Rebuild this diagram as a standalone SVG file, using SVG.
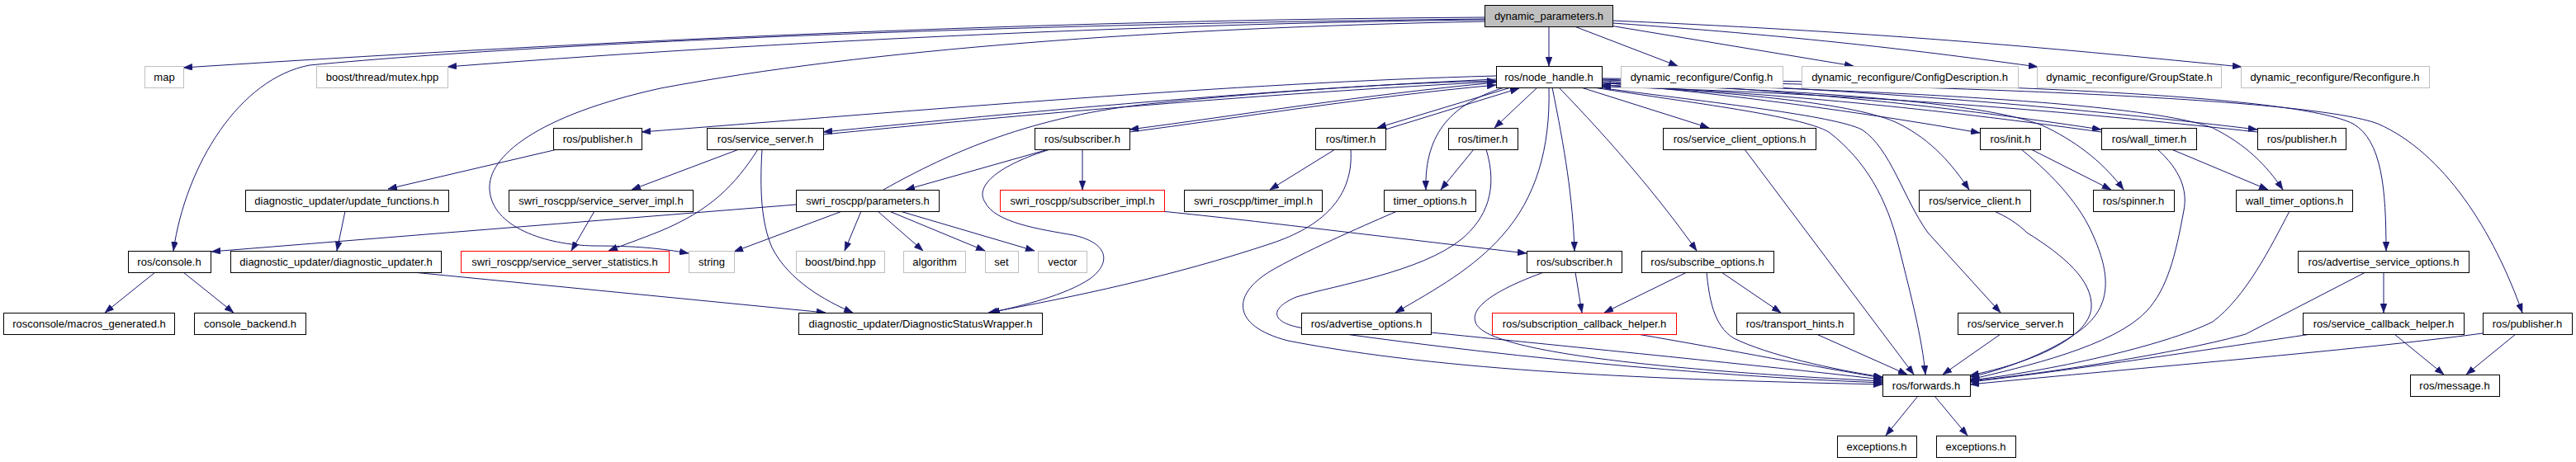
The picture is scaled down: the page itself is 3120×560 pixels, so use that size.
<svg xmlns="http://www.w3.org/2000/svg" width="3120" height="560" viewBox="0 0 3120 560">
<style>
.n rect{fill:#fff;stroke:#000;stroke-width:1}
.g rect{fill:#fff;stroke:#bfbfbf;stroke-width:1}
.r rect{fill:#fff;stroke:#ff0000;stroke-width:1}
.root rect{fill:#bfbfbf;stroke:#000;stroke-width:1}
text{font-family:"Liberation Sans",Arial,sans-serif;font-size:13px;text-anchor:middle;fill:#000}
#edges path{fill:none;stroke:#191970;stroke-width:1;marker-end:url(#a)}
</style>
<defs>
<marker id="a" viewBox="0 0 11 8" refX="11" refY="4" markerWidth="11" markerHeight="8" markerUnits="userSpaceOnUse" orient="auto"><path d="M0,0 L11,4 L0,8 z" fill="#191970" stroke="#191970" stroke-width="0.5"/></marker>
</defs>
<rect width="3120" height="560" fill="#fff"/>
<g id="edges">
<path d="M1876,32 L1876,80"/>
<path d="M1798,21 Q1100,25 222,82"/>
<path d="M1798,23 C1300,28 700,48 375,79 C290,95 225,200 210,304"/>
<path d="M1798,24 C1500,27 1000,45 542,81"/>
<path d="M1798,26 C1400,34 1050,60 800,107 C650,140 590,190 593,230 C596,275 660,297 720,298 C770,298 800,301 834,307"/>
<path d="M1907,32 L2032,80"/>
<path d="M1950,31 L2245,80"/>
<path d="M1953,28 C2200,45 2350,65 2468,81"/>
<path d="M1953,25 C2300,40 2500,60 2715,81"/>
<path d="M1812,92 C1500,100 1100,135 777,160"/>
<path d="M1812,96 C1500,110 1200,140 997,160"/>
<path d="M997,163 C1200,143 1500,115 1812,99"/>
<path d="M1812,100 C1650,115 1500,140 1368,157"/>
<path d="M1368,160 C1500,143 1650,118 1812,103"/>
<path d="M1070,230 C1150,185 1250,140 1400,125 C1550,110 1700,100 1812,98"/>
<path d="M1830,106 L1668,155"/>
<path d="M1678,157 L1840,107"/>
<path d="M1862,106 L1810,155"/>
<path d="M1822,106 C1760,125 1725,160 1727,230"/>
<path d="M1785,181 L1745,230"/>
<path d="M1617,181 L1538,230"/>
<path d="M1636,181 C1640,240 1600,275 1540,295 C1420,335 1300,360 1197,379"/>
<path d="M1270,181 L1097,230"/>
<path d="M1311,181 L1311,230"/>
<path d="M1272,181 C1210,200 1180,225 1193,245 C1205,270 1260,278 1300,285 C1345,295 1345,320 1320,338 C1290,358 1240,370 1200,379"/>
<path d="M895,181 L765,230"/>
<path d="M918,181 C890,225 860,255 800,280 C775,290 755,297 737,304"/>
<path d="M923,181 C920,230 922,270 935,300 C955,340 1000,365 1033,379"/>
<path d="M720,256 L692,304"/>
<path d="M964,248 L256,305"/>
<path d="M1020,256 L889,305"/>
<path d="M1043,256 L1023,304"/>
<path d="M1063,256 L1118,304"/>
<path d="M1077,256 L1193,304"/>
<path d="M1090,256 L1253,304"/>
<path d="M675,181 L470,229"/>
<path d="M418,256 L408,304"/>
<path d="M500,330 L1000,379"/>
<path d="M188,330 L127,379"/>
<path d="M222,330 L283,379"/>
<path d="M1406,256 C1500,265 1700,290 1849,307"/>
<path d="M1800,181 C1815,230 1800,265 1770,290 C1720,330 1620,345 1570,360 C1535,375 1540,392 1580,398 C1800,430 2050,455 2280,464"/>
<path d="M1692,256 C1660,270 1590,300 1545,325 C1490,355 1490,395 1560,413 C1750,450 2000,460 2280,466"/>
<path d="M1733,403 C1950,425 2150,445 2280,460"/>
<path d="M1870,330 C1820,348 1780,370 1787,390 C1795,425 2000,448 2280,462"/>
<path d="M1983,405 C2100,425 2200,445 2280,458"/>
<path d="M2067,330 C2070,360 2075,395 2100,410 C2140,430 2220,448 2280,457"/>
<path d="M2043,330 L1943,379"/>
<path d="M2085,330 L2157,379"/>
<path d="M1908,330 L1916,379"/>
<path d="M2200,405 L2310,454"/>
<path d="M1876,106 C1878,180 1860,240 1820,285 C1785,325 1740,350 1690,379"/>
<path d="M1880,106 C1895,180 1905,240 1907,304"/>
<path d="M1888,106 C1950,170 2010,240 2055,304"/>
<path d="M1930,106 C2050,125 2180,140 2215,160 C2260,195 2285,240 2300,300 C2315,360 2328,410 2332,454"/>
<path d="M1935,106 C2080,125 2220,140 2255,157 C2290,180 2305,240 2335,282 L2423,379"/>
<path d="M2113,181 L2318,454"/>
<path d="M1915,106 L2070,155"/>
<path d="M1940,100 C2100,115 2250,135 2398,161"/>
<path d="M1940,98 C2200,110 2400,135 2545,157"/>
<path d="M1940,96 C2300,110 2550,135 2734,157"/>
<path d="M2545,160 C2400,140 2200,115 1940,103"/>
<path d="M2734,160 C2550,140 2300,115 1940,105"/>
<path d="M1940,103 C2100,112 2250,125 2300,150 C2340,170 2365,200 2385,230"/>
<path d="M1940,101 C2200,110 2420,125 2480,155 C2520,175 2550,200 2572,230"/>
<path d="M1940,100 C2300,110 2600,125 2680,155 C2720,175 2745,200 2765,230"/>
<path d="M1940,95 C2400,100 2780,115 2850,150 C2885,170 2890,230 2890,304"/>
<path d="M1940,97 C2400,105 2800,120 2880,150 C2960,185 3020,280 3055,379"/>
<path d="M2460,181 L2557,230"/>
<path d="M2448,181 C2490,215 2520,250 2535,285 C2555,330 2560,370 2520,400 C2480,430 2420,450 2386,457"/>
<path d="M2413,255 C2430,262 2445,272 2455,282 C2500,310 2535,340 2533,373 C2530,410 2460,440 2386,455"/>
<path d="M2630,181 L2747,230"/>
<path d="M2613,181 C2640,205 2650,230 2645,255 C2635,310 2625,350 2600,377 C2560,420 2450,445 2386,460"/>
<path d="M2773,256 C2750,300 2720,360 2680,390 C2620,420 2480,450 2386,461"/>
<path d="M2865,330 L2720,405 C2650,425 2500,450 2386,462"/>
<path d="M2799,405 C2700,420 2500,450 2386,463"/>
<path d="M3007,404 C2850,425 2600,445 2386,466"/>
<path d="M2423,405 L2353,454"/>
<path d="M2887,330 L2887,379"/>
<path d="M2900,405 L2960,454"/>
<path d="M3047,405 L2987,454"/>
<path d="M2323,480 L2284,528"/>
<path d="M2343,480 L2383,528"/>
</g>
<g id="n_root" class="root"><rect x="1798.5" y="6.5" width="155" height="26"/><text x="1876" y="24">dynamic_parameters.h</text></g>
<g id="n_map" class="g"><rect x="175.5" y="80.5" width="47" height="26"/><text x="199" y="98">map</text></g>
<g id="n_mutex" class="g"><rect x="383.5" y="80.5" width="159" height="26"/><text x="463" y="98">boost/thread/mutex.hpp</text></g>
<g id="n_nh" class="n"><rect x="1812.5" y="80.5" width="128" height="26"/><text x="1876" y="98">ros/node_handle.h</text></g>
<g id="n_cfg" class="g"><rect x="1963.5" y="80.5" width="196" height="26"/><text x="2061" y="98">dynamic_reconfigure/Config.h</text></g>
<g id="n_cfgdesc" class="g"><rect x="2182.5" y="80.5" width="262" height="26"/><text x="2313" y="98">dynamic_reconfigure/ConfigDescription.h</text></g>
<g id="n_grp" class="g"><rect x="2467.5" y="80.5" width="223" height="26"/><text x="2579" y="98">dynamic_reconfigure/GroupState.h</text></g>
<g id="n_rec" class="g"><rect x="2714.5" y="80.5" width="228" height="26"/><text x="2828" y="98">dynamic_reconfigure/Reconfigure.h</text></g>
<g id="n_pubL" class="n"><rect x="670.5" y="155.5" width="107" height="26"/><text x="724" y="173">ros/publisher.h</text></g>
<g id="n_ss" class="n"><rect x="856.5" y="155.5" width="141" height="26"/><text x="927" y="173">ros/service_server.h</text></g>
<g id="n_sub" class="n"><rect x="1253.5" y="155.5" width="115" height="26"/><text x="1311" y="173">ros/subscriber.h</text></g>
<g id="n_tim1" class="n"><rect x="1593.5" y="155.5" width="85" height="26"/><text x="1636" y="173">ros/timer.h</text></g>
<g id="n_tim2" class="n"><rect x="1754.5" y="155.5" width="84" height="26"/><text x="1796" y="173">ros/timer.h</text></g>
<g id="n_sco" class="n"><rect x="2014.5" y="155.5" width="185" height="26"/><text x="2107" y="173">ros/service_client_options.h</text></g>
<g id="n_init" class="n"><rect x="2398.5" y="155.5" width="73" height="26"/><text x="2435" y="173">ros/init.h</text></g>
<g id="n_wt" class="n"><rect x="2545.5" y="155.5" width="115" height="26"/><text x="2603" y="173">ros/wall_timer.h</text></g>
<g id="n_pubR" class="n"><rect x="2734.5" y="155.5" width="107" height="26"/><text x="2788" y="173">ros/publisher.h</text></g>
<g id="n_uf" class="n"><rect x="297.5" y="230.5" width="246" height="26"/><text x="420" y="248">diagnostic_updater/update_functions.h</text></g>
<g id="n_ssi" class="n"><rect x="616.5" y="230.5" width="223" height="26"/><text x="728" y="248">swri_roscpp/service_server_impl.h</text></g>
<g id="n_par" class="n"><rect x="964.5" y="230.5" width="173" height="26"/><text x="1051" y="248">swri_roscpp/parameters.h</text></g>
<g id="n_subi" class="r"><rect x="1211.5" y="230.5" width="199" height="26"/><text x="1311" y="248">swri_roscpp/subscriber_impl.h</text></g>
<g id="n_timi" class="n"><rect x="1434.5" y="230.5" width="167" height="26"/><text x="1518" y="248">swri_roscpp/timer_impl.h</text></g>
<g id="n_to" class="n"><rect x="1676.5" y="230.5" width="111" height="26"/><text x="1732" y="248">timer_options.h</text></g>
<g id="n_sc" class="n"><rect x="2324.5" y="230.5" width="135" height="26"/><text x="2392" y="248">ros/service_client.h</text></g>
<g id="n_sp" class="n"><rect x="2535.5" y="230.5" width="98" height="26"/><text x="2584" y="248">ros/spinner.h</text></g>
<g id="n_wto" class="n"><rect x="2708.5" y="230.5" width="141" height="26"/><text x="2779" y="248">wall_timer_options.h</text></g>
<g id="n_con" class="n"><rect x="155.5" y="304.5" width="100" height="26"/><text x="205" y="322">ros/console.h</text></g>
<g id="n_du" class="n"><rect x="279.5" y="304.5" width="255" height="26"/><text x="407" y="322">diagnostic_updater/diagnostic_updater.h</text></g>
<g id="n_sss" class="r"><rect x="558.5" y="304.5" width="252" height="26"/><text x="684" y="322">swri_roscpp/service_server_statistics.h</text></g>
<g id="n_str" class="g"><rect x="834.5" y="304.5" width="55" height="26"/><text x="862" y="322">string</text></g>
<g id="n_bind" class="g"><rect x="964.5" y="304.5" width="107" height="26"/><text x="1018" y="322">boost/bind.hpp</text></g>
<g id="n_alg" class="g"><rect x="1094.5" y="304.5" width="75" height="26"/><text x="1132" y="322">algorithm</text></g>
<g id="n_set" class="g"><rect x="1193.5" y="304.5" width="40" height="26"/><text x="1213" y="322">set</text></g>
<g id="n_vec" class="g"><rect x="1257.5" y="304.5" width="59" height="26"/><text x="1287" y="322">vector</text></g>
<g id="n_sub2" class="n"><rect x="1849.5" y="304.5" width="115" height="26"/><text x="1907" y="322">ros/subscriber.h</text></g>
<g id="n_so" class="n"><rect x="1988.5" y="304.5" width="160" height="26"/><text x="2068" y="322">ros/subscribe_options.h</text></g>
<g id="n_aso" class="n"><rect x="2783.5" y="304.5" width="207" height="26"/><text x="2887" y="322">ros/advertise_service_options.h</text></g>
<g id="n_mg" class="n"><rect x="4.5" y="379.5" width="207" height="26"/><text x="108" y="397">rosconsole/macros_generated.h</text></g>
<g id="n_cb" class="n"><rect x="235.5" y="379.5" width="135" height="26"/><text x="303" y="397">console_backend.h</text></g>
<g id="n_dsw" class="n"><rect x="967.5" y="379.5" width="295" height="26"/><text x="1115" y="397">diagnostic_updater/DiagnosticStatusWrapper.h</text></g>
<g id="n_ao" class="n"><rect x="1576.5" y="379.5" width="157" height="26"/><text x="1655" y="397">ros/advertise_options.h</text></g>
<g id="n_sch" class="r"><rect x="1807.5" y="379.5" width="223" height="26"/><text x="1919" y="397">ros/subscription_callback_helper.h</text></g>
<g id="n_th" class="n"><rect x="2103.5" y="379.5" width="142" height="26"/><text x="2174" y="397">ros/transport_hints.h</text></g>
<g id="n_ss2" class="n"><rect x="2371.5" y="379.5" width="140" height="26"/><text x="2441" y="397">ros/service_server.h</text></g>
<g id="n_svch" class="n"><rect x="2789.5" y="379.5" width="195" height="26"/><text x="2887" y="397">ros/service_callback_helper.h</text></g>
<g id="n_pub3" class="n"><rect x="3007.5" y="379.5" width="108" height="26"/><text x="3061" y="397">ros/publisher.h</text></g>
<g id="n_fw" class="n"><rect x="2280.5" y="454.5" width="106" height="26"/><text x="2333" y="472">ros/forwards.h</text></g>
<g id="n_msg" class="n"><rect x="2919.5" y="454.5" width="108" height="26"/><text x="2973" y="472">ros/message.h</text></g>
<g id="n_ex1" class="n"><rect x="2225.5" y="528.5" width="96" height="26"/><text x="2273" y="546">exceptions.h</text></g>
<g id="n_ex2" class="n"><rect x="2345.5" y="528.5" width="96" height="26"/><text x="2393" y="546">exceptions.h</text></g>
</svg>
